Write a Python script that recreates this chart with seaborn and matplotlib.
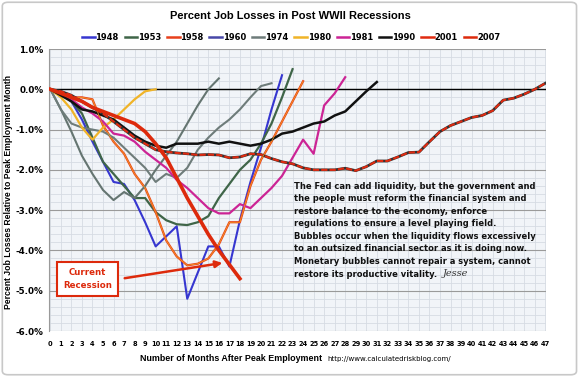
import numpy as np
import pandas as pd
import matplotlib
matplotlib.use("Agg")
import matplotlib.pyplot as plt
from matplotlib.lines import Line2D
from matplotlib.patches import FancyBboxPatch
import seaborn as sns

# --- data (percent job loss vs. peak month) ---
r1948 = [0, -0.1, -0.3, -0.75, -1.3, -1.8, -2.3, -2.35, -2.75, -3.3, -3.9, -3.65,
         -3.4, -5.2, -4.55, -3.9, -3.9, -4.4, -3.25, -2.3, -1.45, -0.5, 0.35]
r1953 = [0, -0.1, -0.3, -0.6, -1.2, -1.8, -2.1, -2.4, -2.7, -2.7, -3.05, -3.25,
         -3.35, -3.37, -3.3, -3.15, -2.7, -2.35, -2.0, -1.75, -1.35, -0.85, -0.2, 0.5]
r1958 = [0, -0.1, -0.2, -0.2, -0.25, -0.9, -1.3, -1.6, -2.1, -2.45, -3.05, -3.75,
         -4.15, -4.37, -4.33, -4.2, -3.85, -3.3, -3.3, -2.4, -1.75, -1.3, -0.8, -0.3, 0.2]
r1960 = [0, -0.5, -1.05, -1.65, -2.1, -2.5, -2.75, -2.55, -2.7, -2.4, -2.0, -1.65,
         -1.3, -0.85, -0.4, 0.0, 0.27]
r1974 = [0, -0.5, -0.85, -0.95, -1.0, -1.05, -1.2, -1.45, -1.7, -1.95, -2.3, -2.1,
         -2.2, -1.95, -1.5, -1.2, -0.95, -0.75, -0.5, -0.2, 0.08, 0.15]
r1980 = [0, -0.2, -0.5, -0.95, -1.25, -0.95, -0.75, -0.5, -0.25, -0.05, 0.0]
r1981 = [0, -0.1, -0.25, -0.45, -0.6, -0.8, -1.1, -1.15, -1.3, -1.55, -1.75, -1.95,
         -2.25, -2.45, -2.7, -2.95, -3.08, -3.08, -2.85, -2.95, -2.7, -2.45, -2.15,
         -1.7, -1.25, -1.6, -0.4, -0.1, 0.3]
r1990 = [0, -0.15, -0.3, -0.5, -0.55, -0.65, -0.75, -0.95, -1.15, -1.3, -1.4, -1.45,
         -1.35, -1.35, -1.35, -1.3, -1.35, -1.3, -1.35, -1.4, -1.35, -1.25, -1.1,
         -1.05, -0.95, -0.85, -0.8, -0.65, -0.55, -0.3, -0.05, 0.18]
r2001 = [0, -0.05, -0.15, -0.3, -0.45, -0.6, -0.8, -1.0, -1.2, -1.35, -1.5, -1.55,
         -1.58, -1.6, -1.63, -1.62, -1.63, -1.7, -1.68, -1.6, -1.62, -1.72, -1.8,
         -1.85, -1.95, -2.0, -2.0, -2.0, -1.96, -2.02, -1.92, -1.78, -1.78, -1.68,
         -1.57, -1.56, -1.3, -1.05, -0.9, -0.8, -0.7, -0.65, -0.53, -0.27, -0.22,
         -0.12, 0.0, 0.15]
r2007 = [0, -0.1, -0.2, -0.3, -0.45, -0.55, -0.65, -0.75, -0.85, -1.05, -1.35, -1.7,
         -2.2, -2.7, -3.15, -3.6, -4.0, -4.35, -4.7]

years = ["1948", "1953", "1958", "1960", "1974", "1980", "1981", "1990", "2001", "2007"]
series = [r1948, r1953, r1958, r1960, r1974, r1980, r1981, r1990, r2001, r2007]
colors = {"1948": "#3636d0", "1953": "#3f6548", "1958": "#e8401c", "1960": "#657571",
          "1974": "#6e7c7a", "1980": "#f0b428", "1981": "#cc2495", "1990": "#111111",
          "2001": "#e02a10", "2007": "#dd2a0c"}
legend_colors = dict(colors, **{"1960": "#4848a8"})
widths = {"1948": 1.5, "1953": 1.6, "1958": 1.5, "1960": 1.5, "1974": 1.5,
          "1980": 1.6, "1981": 1.6, "1990": 1.8, "2001": 1.8, "2007": 2.6}

df = pd.concat([pd.DataFrame({"month": np.arange(len(v)), "loss": v, "year": y})
                for y, v in zip(years, series)], ignore_index=True)

fig = plt.figure(figsize=(5.8, 3.77), dpi=100)
fig.patch.set_facecolor("white")
fig.patches.append(FancyBboxPatch((0.004, 0.006), 0.99, 0.988, boxstyle="round,pad=0,rounding_size=0.01",
                                  transform=fig.transFigure, fc="none", ec="#c8c8c8", lw=1.2))
ax = fig.add_axes([0.085, 0.122, 0.857, 0.748])
ax.set_facecolor("#f1f4f8")

# grid
for m in range(0, 48):
    ax.axvline(m, color="#d6dbe3", lw=0.6, zorder=0)
for v in np.arange(-6, 1.01, 0.2):
    ax.axhline(v, color="#d6dbe3", lw=0.6, zorder=0)
for v in range(-6, 2):
    ax.axhline(v, color="#9a9a9a", lw=0.8, zorder=0.5)
ax.axhline(0, color="black", lw=1.0, zorder=1)

for y in years:
    d = df[df.year == y]
    if y == "2001":
        sns.lineplot(data=d, x="month", y="loss", ax=ax, color="#333333", lw=2.0, zorder=2)
        ax.plot(d.month, d.loss, color=colors[y], lw=1.5, dashes=(3, 1.0), zorder=2.1)
    elif y == "1958":
        sns.lineplot(data=d, x="month", y="loss", ax=ax, color=colors[y], lw=1.6, zorder=2)
        ax.plot(d.month, d.loss, color="#f5a623", lw=0.5, zorder=2.1)
    else:
        sns.lineplot(data=d, x="month", y="loss", ax=ax, color=colors[y], lw=widths[y],
                     zorder=3 if y == "2007" else 2)

ax.set_xlim(-0.1, 47.1)
ax.set_ylim(-6, 1)
ax.set_xticks(range(0, 48))
ax.set_xticklabels([str(m) for m in range(0, 48)], fontsize=4.8, fontweight="bold")
ax.set_yticks(range(-6, 2))
ax.set_yticklabels([f"{v:.1f}%" for v in range(-6, 2)], fontsize=6.3, fontweight="bold")
ax.tick_params(axis="y", length=0, pad=4)
ax.tick_params(axis="x", length=0, pad=7)
for s in ["top", "right", "bottom"]:
    ax.spines[s].set_visible(False)
ax.spines["left"].set_color("#9a9a9a")
ax.set_xlabel("")
ax.set_ylabel("")
fig.text(9 / 580, 1 - 192 / 377, "Percent Job Losses Relative to Peak Employment Month",
         rotation=90, ha="center", va="center", fontsize=6.2, fontweight="bold",
         family="Liberation Sans")

fig.text(0.5, 0.958, "Percent Job Losses in Post WWII Recessions", ha="center", va="center",
         fontsize=8, fontweight="bold", family="Liberation Sans")
fig.text(0.555, 0.048, "Number of Months After Peak Employment", ha="right", va="center",
         fontsize=6.4, fontweight="bold", family="Liberation Sans")
fig.text(0.565, 0.048, "http://www.calculatedriskblog.com/", ha="left", va="center",
         fontsize=5)

# legend
handles = [Line2D([], [], color=legend_colors[y], lw=1.8) for y in years]
leg = fig.legend(handles, years, loc="center", bbox_to_anchor=(0.502, 0.9), ncol=10,
                 frameon=False, prop={"size": 6, "weight": "bold"},
                 handlelength=1.5, handletextpad=0.1, columnspacing=0.7)

# commentary
quote = ["The Fed can add liquidity, but the government and",
         "the people must reform the financial system and",
         "restore balance to the economy, enforce",
         "regulations to ensure a level playing field.",
         "Bubbles occur when the liquidity flows excessively",
         "to an outsized financial sector as it is doing now.",
         "Monetary bubbles cannot repair a system, cannot",
         "restore its productive vitality."]
for i, line in enumerate(quote):
    fig.text(294 / 580, 1 - (186 + i * 12.6) / 377, line, ha="left", va="center",
             fontsize=6.0, fontweight="bold", color="#111111")
fig.text(443 / 580, 1 - 273 / 377, "Jesse", ha="left", va="center", fontsize=7,
         family="DejaVu Serif", style="italic", color="#333333")

# current recession callout
ax.annotate("", xy=(16.6, -4.3), xytext=(6.8, -4.7),
            arrowprops=dict(arrowstyle="-|>", color="#dd2a0c", lw=1.8, mutation_scale=10))
ax.text(3.5, -4.7, "Current\nRecession", ha="center", va="center", fontsize=6.2,
        fontweight="bold", color="#dd2a0c", linespacing=1.6,
        bbox=dict(boxstyle="square,pad=0.7", fc="white", ec="#dd2a0c", lw=1.5))

fig.savefig("out.png", dpi=100)
